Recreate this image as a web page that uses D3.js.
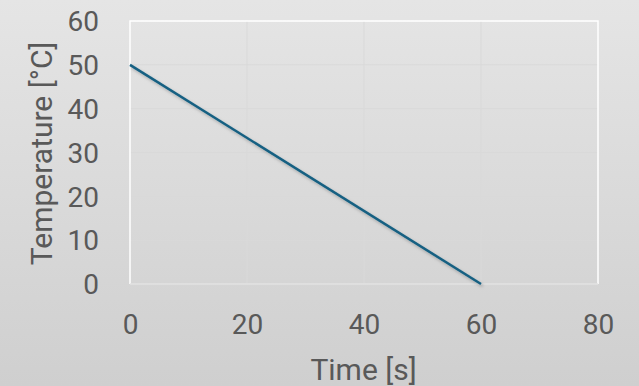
<!DOCTYPE html>
<html><head><meta charset="utf-8">
<script src="https://cdn.jsdelivr.net/npm/d3@7"></script>
<style>html,body{margin:0;padding:0;overflow:hidden;}</style>
</head><body>
<script>
const timeValues = [0, 60];
const temperatureValues = [50, 0];
const xTicks = [0, 20, 40, 60, 80];
const yTicks = [0, 10, 20, 30, 40, 50, 60];
const xTitle = "Time [s]";
const yTitle = "Temperature [°C]";

const W = 639, H = 386;
const m = {left: 130, right: 41, top: 21, bottom: 102};
const svg = d3.select("body").append("svg").attr("width", W).attr("height", H);
const defs = svg.append("defs");
const grad = defs.append("linearGradient").attr("id", "bg").attr("x1", 0).attr("y1", 0).attr("x2", 0).attr("y2", 1);
grad.append("stop").attr("offset", "0%").attr("stop-color", "#e5e5e5");
grad.append("stop").attr("offset", "100%").attr("stop-color", "#cfcfcf");
const f = defs.append("filter").attr("id", "sh").attr("x", "-10%").attr("y", "-10%").attr("width", "130%").attr("height", "130%");
f.append("feDropShadow").attr("dx", 1.5).attr("dy", 2).attr("stdDeviation", 1.5).attr("flood-color", "#000").attr("flood-opacity", 0.25);

svg.append("rect").attr("width", W).attr("height", H).attr("fill", "url(#bg)");

const x = d3.scaleLinear().domain([0, 80]).range([m.left, W - m.right]);
const y = d3.scaleLinear().domain([0, 60]).range([H - m.bottom, m.top]);
const font = "Roboto, 'Open Sans', sans-serif";

// gridlines
svg.append("g").selectAll("line.v").data(xTicks.slice(1, -1)).join("line")
  .attr("x1", d => x(d)).attr("x2", d => x(d)).attr("y1", y(60)).attr("y2", y(0))
  .attr("stroke", "#d9d9d9").attr("stroke-width", 1);
svg.append("g").selectAll("line.h").data(yTicks.slice(1, -1)).join("line")
  .attr("x1", x(0)).attr("x2", x(80)).attr("y1", d => y(d)).attr("y2", d => y(d))
  .attr("stroke", "#d9d9d9").attr("stroke-width", 1);

// plot border
svg.append("path")
  .attr("d", `M${x(0)},${y(0)}V${y(60)}H${x(80)}V${y(0)}`)
  .attr("fill", "none").attr("stroke", "#ffffff").attr("stroke-width", 1.5);
svg.append("line").attr("x1", x(0)).attr("x2", x(80)).attr("y1", y(0)).attr("y2", y(0))
  .attr("stroke", "#e2e2e2").attr("stroke-width", 1.5);

// axes labels
const xAxis = d3.axisBottom(x).tickValues(xTicks).tickSize(0).tickPadding(0);
const gx = svg.append("g").attr("transform", `translate(0,${y(0)})`).call(xAxis);
gx.select(".domain").remove();
gx.selectAll("text").attr("dy", null).attr("y", 50).attr("font-size", 28).attr("font-family", font).attr("fill", "#595959");

const yAxis = d3.axisLeft(y).tickValues(yTicks).tickSize(0).tickPadding(0);
const gy = svg.append("g").attr("transform", `translate(${x(0) - 31},0)`).call(yAxis);
gy.select(".domain").remove();
gy.selectAll("text").attr("dy", "0.35em").attr("x", 0).attr("font-size", 28).attr("font-family", font).attr("fill", "#595959");

// line
const pts = timeValues.map((t, i) => [t, temperatureValues[i]]);
svg.append("path").datum(pts)
  .attr("d", d3.line().x(d => x(d[0])).y(d => y(d[1])))
  .attr("fill", "none").attr("stroke", "#156082").attr("stroke-width", 2.5)
  .attr("filter", "url(#sh)");

// titles
svg.append("text").attr("x", 363.5).attr("y", 380)
  .attr("text-anchor", "middle").attr("font-size", 30).attr("font-family", font).attr("fill", "#595959").text(xTitle);
svg.append("text").attr("transform", `translate(52,153.5) rotate(-90)`)
  .attr("text-anchor", "middle").attr("font-size", 30).attr("font-family", font).attr("fill", "#595959").text(yTitle);
</script>
</body></html>
